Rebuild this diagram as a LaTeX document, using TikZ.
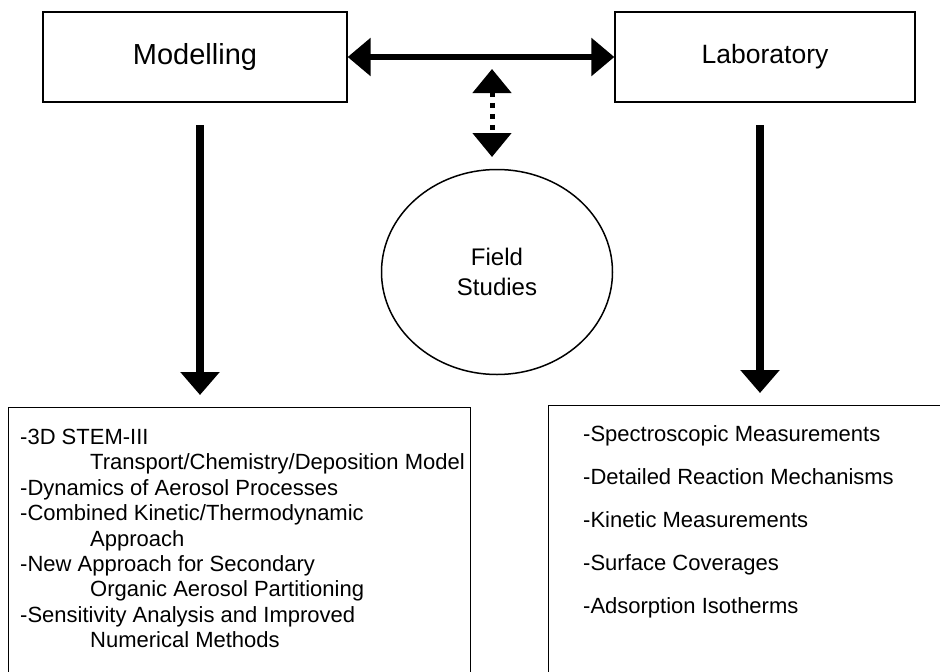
\documentclass[tikz,border=0pt]{standalone}
\usepackage{fontspec}
\setmainfont{Liberation Sans}
\usetikzlibrary{arrows.meta,shapes.geometric}

\begin{document}
\begin{tikzpicture}[x=1pt,y=-1pt,
    box/.style={draw, line width=1.3pt, minimum height=90pt},
    listbox/.style={draw, line width=1.3pt, anchor=north west, minimum height=300pt},
    listtext/.style={anchor=north west, inner sep=0pt, align=left},
    fat/.style={-{Triangle[length=23pt,width=38pt]}, line width=7.5pt},
    ]
  \useasboundingbox (0,0) rectangle (940,672);

  % top row
  \node (model) at (195,57) [box, minimum width=304pt, font=\fontsize{29}{34}\selectfont] {Modelling};
  \node (lab) at (765,57) [box, minimum width=300pt, font=\fontsize{26.5}{30}\selectfont] {Laboratory};
  \node (field) at (497,272) [draw, ellipse, line width=1.5pt, minimum width=231pt, minimum height=205pt,
        align=center, font=\fontsize{24}{30}\selectfont] {Field\\Studies};

  % lists
  \node (modlist) at (8,407) [listbox, minimum width=462pt] {};
  \node (labllist) at (548,405) [listbox, minimum width=420pt] {};
  \node (modtext) at (20,429) [listtext, font=\fontsize{22}{25.4}\selectfont] {-3D STEM-III\\
      \hspace*{70pt}Transport/Chemistry/Deposition Model\\
      -Dynamics of Aerosol Processes\\
      -Combined Kinetic/Thermodynamic\\
      \hspace*{70pt}Approach\\
      -New Approach for Secondary\\
      \hspace*{70pt}Organic Aerosol Partitioning\\
      -Sensitivity Analysis and Improved\\
      \hspace*{70pt}Numerical Methods};
  \node (labtext) at (583,425) [listtext, font=\fontsize{22}{43}\selectfont] {-Spectroscopic Measurements\\
      -Detailed Reaction Mechanisms\\
      -Kinetic Measurements\\
      -Surface Coverages\\
      -Adsorption Isotherms};

  % arrow ends
  \coordinate (mtop) at (200,125);
  \coordinate (mbot) at (200,395);
  \coordinate (ltop) at (760,125);
  \coordinate (lbot) at (760,393);
  \coordinate (dtop) at (492,69);
  \coordinate (dbot) at (492,157);

  \draw [{Triangle[length=23pt,width=37pt]}-{Triangle[length=23pt,width=37pt]}, line width=6pt] (model.east) -- (lab.west);
  \draw [{Triangle[length=24pt,width=38pt]}-{Triangle[length=24pt,width=38pt]}, line width=5pt,
        dash pattern=on 5pt off 6pt] (dtop) -- (dbot);
  \draw [fat] (mtop) -- (mbot);
  \draw [fat] (ltop) -- (lbot);

\end{tikzpicture}
\end{document}
